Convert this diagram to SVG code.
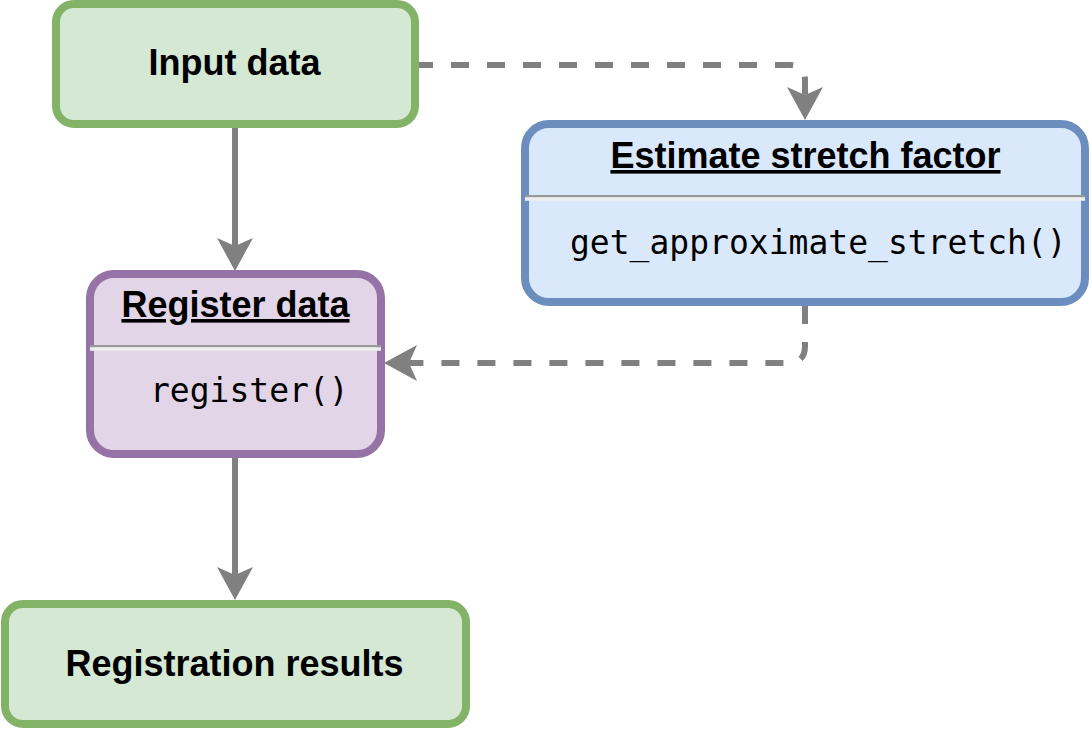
<svg xmlns="http://www.w3.org/2000/svg" width="1092" height="729" viewBox="0 0 1092 729">
<style>
.box{stroke-width:8}
.green{fill:#d5e8d4;stroke:#82b366}
.blue{fill:#dae8fc;stroke:#6c8ebf}
.purple{fill:#e1d5e7;stroke:#9673a6}
.title{font-family:"Liberation Sans",Arial,Helvetica,sans-serif;font-weight:bold;font-size:36px;fill:#000;text-anchor:middle}
.u{text-decoration:underline}
.code{font-family:"DejaVu Sans Mono","Liberation Mono",monospace;font-size:33px;fill:#000}
.sepg{stroke:#999999;stroke-width:2.4}
.sepl{stroke:#eeeeee;stroke-width:3.3}
.conn{fill:none;stroke:#808080;stroke-width:6}
.dash{stroke-dasharray:18 18}
</style>
<defs>
<marker id="arr" markerUnits="userSpaceOnUse" markerWidth="40" markerHeight="40" viewBox="-2 -20 40 40" refX="8" refY="0" orient="auto" overflow="visible">
<path d="M33,0 L0,-18 L8,0 L0,18 Z" fill="#808080"/>
</marker>
</defs>
<g id="connectors">
<path class="conn" d="M235,128 V246" marker-end="url(#arr)"/>
<path class="conn" d="M235,458 V575" marker-end="url(#arr)"/>
<path class="conn dash" d="M415,65 H790 Q805,65 805,80 V95" marker-end="url(#arr)"/>
<path class="conn dash" d="M805,306 V346 Q805,363 788,363 H409" marker-end="url(#arr)"/>
</g>
<g id="input-data">
<rect class="box green" x="56" y="4" width="359" height="120" rx="18"/>
<text class="title" x="234.5" y="75">Input data</text>
</g>
<g id="estimate-stretch">
<rect class="box blue" x="525" y="124" width="560" height="178" rx="24"/>
<text class="title u" x="805.5" y="168">Estimate stretch factor</text>
<line class="sepg" x1="525" y1="196.2" x2="1085" y2="196.2"/>
<line class="sepl" x1="525" y1="199" x2="1085" y2="199"/>
<text class="code" x="570" y="254">get_approximate_stretch()</text>
</g>
<g id="register-data">
<rect class="box purple" x="90" y="274" width="291" height="180" rx="24"/>
<text class="title u" x="235.5" y="317">Register data</text>
<line class="sepg" x1="90" y1="346.2" x2="381" y2="346.2"/>
<line class="sepl" x1="90" y1="349" x2="381" y2="349"/>
<text class="code" x="150" y="402">register()</text>
</g>
<g id="registration-results">
<rect class="box green" x="5" y="604" width="461" height="120" rx="18"/>
<text class="title" x="234.5" y="676">Registration results</text>
</g>
</svg>
